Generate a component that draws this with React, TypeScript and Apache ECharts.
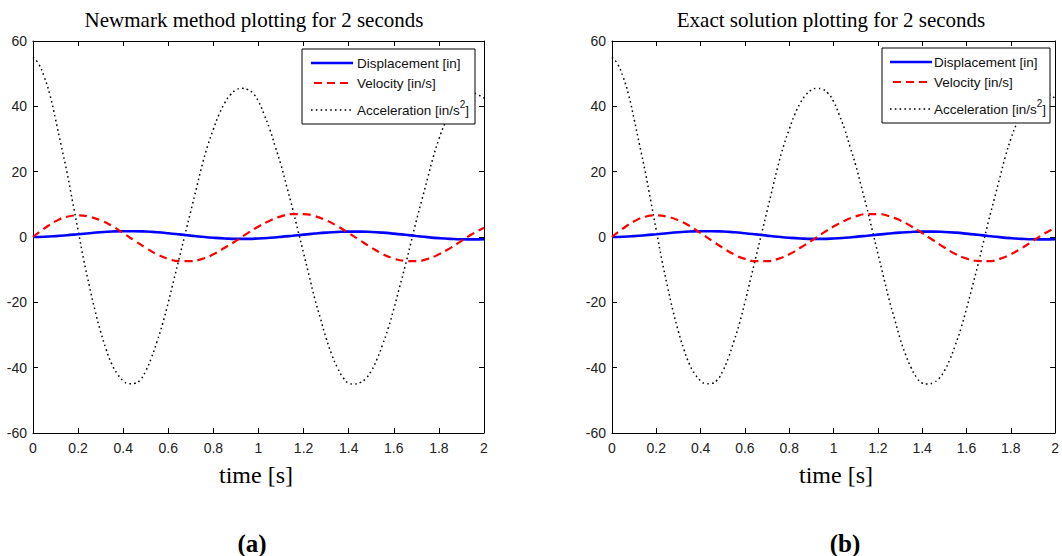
import React, { useEffect, useRef } from "react";
import * as echarts from "echarts";

const times = [
  0, 0.05, 0.1, 0.15, 0.2, 0.25, 0.3, 0.35, 0.4, 0.45,
  0.5, 0.55, 0.6, 0.65, 0.7, 0.75, 0.8, 0.85, 0.9, 0.95,
  1.0, 1.05, 1.1, 1.15, 1.2, 1.25, 1.3, 1.35, 1.4, 1.45,
  1.5, 1.55, 1.6, 1.65, 1.7, 1.75, 1.8, 1.85, 1.9, 1.95, 2.0,
];

const displacement = [
  0, 0.07, 0.26, 0.53, 0.85, 1.17, 1.45, 1.67, 1.78, 1.78,
  1.67, 1.45, 1.15, 0.8, 0.43, 0.08, -0.22, -0.44, -0.56, -0.56,
  -0.45, -0.24, 0.04, 0.37, 0.72, 1.05, 1.34, 1.55, 1.65, 1.65,
  1.54, 1.33, 1.03, 0.68, 0.31, -0.05, -0.35, -0.57, -0.7, -0.72, -0.66,
];

const velocity = [
  0, 2.6, 4.8, 6.2, 6.6, 6.2, 5.1, 3.4, 1.2, -1.1,
  -3.3, -5.3, -6.7, -7.4, -7.4, -6.7, -5.3, -3.3, -1.2, 1.1,
  3.2, 5.0, 6.3, 7.0, 7.0, 6.4, 5.1, 3.3, 1.2, -1.0,
  -3.2, -5.2, -6.6, -7.3, -7.4, -6.7, -5.3, -3.4, -1.2, 1.0, 2.8,
];

const accTimes = [
  0, 0.025, 0.05, 0.075, 0.1, 0.125, 0.15, 0.175, 0.2, 0.225,
  0.25, 0.275, 0.3, 0.325, 0.35, 0.375, 0.4, 0.425, 0.45, 0.475,
  0.5, 0.525, 0.55, 0.575, 0.6, 0.625, 0.65, 0.675, 0.7, 0.725,
  0.75, 0.775, 0.8, 0.825, 0.85, 0.875, 0.9, 0.925, 0.95, 0.975,
  1.0, 1.025, 1.05, 1.075, 1.1, 1.125, 1.15, 1.175, 1.2, 1.225,
  1.25, 1.275, 1.3, 1.325, 1.35, 1.375, 1.4, 1.425, 1.45, 1.475,
  1.5, 1.525, 1.55, 1.575, 1.6, 1.625, 1.65, 1.675, 1.7, 1.725,
  1.75, 1.775, 1.8, 1.825, 1.85, 1.875, 1.9, 1.925, 1.95, 1.975, 2.0,
];

const acceleration = [
  55, 53, 49, 43.5, 36, 28, 20, 11, 2, -7,
  -15, -22.5, -29, -34.5, -39, -42, -44, -44.9, -44.8, -43.8,
  -41, -37, -32, -26.5, -20, -13, -6, 1, 8, 15,
  22, 28, 33, 37.5, 41, 43.5, 45, 45.5, 45.2, 44,
  41.5, 37.5, 33, 27.5, 22, 15.5, 9, 2, -5, -12,
  -19, -25, -31, -36, -40, -43, -44.7, -45, -44.6, -43.4,
  -41, -37.5, -33, -28, -22, -15.5, -9, -2, 5, 11.5,
  18, 24.5, 30, 34.5, 38, 41, 43, 44, 44.1, 43.5, 42.5,
];

const titles = ["Newmark method plotting for 2 seconds", "Exact solution plotting for 2 seconds"];
const panelLabels = ["(a)", "(b)"];
const xAxisName = "time [s]";
const legendNames = ["Displacement [in]", "Velocity [in/s]"];

const SANS = "'Liberation Sans', Arial, Helvetica, sans-serif";
const SERIF = "'Liberation Serif', 'Times New Roman', serif";

const panels = [
  { left: 33, width: 451, titleX: 254, nameX: 256, labelX: 252, legX: 302, legW: 173, legY: 49, lineX1: 311, lineX2: 353, textX: 357, rows: [63, 83, 108] },
  { left: 612, width: 452, titleX: 831, nameX: 836, labelX: 845, legX: 882, legW: 168, legY: 48, lineX1: 890, lineX2: 932, textX: 934, rows: [62, 82, 107] },
];

const pairs = (ts: number[], vals: number[]) => ts.map((t, i) => [t, vals[i]]);

export default function App() {
  const ref = useRef<HTMLDivElement>(null);
  useEffect(() => {
    if (!ref.current) return;
    const chart = echarts.init(ref.current, undefined, { renderer: "svg" });
    const grid: any[] = [];
    const xAxis: any[] = [];
    const yAxis: any[] = [];
    const series: any[] = [];
    const graphic: any[] = [];
    const axisLine = { show: true, onZero: false, lineStyle: { color: "#000", width: 1 } };
    const axisTick = { show: true, inside: true, length: 5, lineStyle: { color: "#000", width: 1 } };
    panels.forEach((p, i) => {
      grid.push({ left: p.left, top: 41, width: p.width, height: 392 });
      xAxis.push({
        type: "value", gridIndex: i, min: 0, max: 2, interval: 0.2, position: "bottom",
        axisLine, axisTick, splitLine: { show: false },
        axisLabel: { fontFamily: SANS, fontSize: 14, color: "#222", margin: 8, formatter: (v: number) => String(+v.toFixed(1)) },
      });
      xAxis.push({
        type: "value", gridIndex: i, min: 0, max: 2, interval: 0.2, position: "top",
        axisLine, axisTick, splitLine: { show: false }, axisLabel: { show: false },
      });
      yAxis.push({
        type: "value", gridIndex: i, min: -60, max: 60, interval: 20, position: "left",
        axisLine, axisTick, splitLine: { show: false },
        axisLabel: { fontFamily: SANS, fontSize: 14, color: "#222", margin: 6 },
      });
      yAxis.push({
        type: "value", gridIndex: i, min: -60, max: 60, interval: 20, position: "right",
        axisLine, axisTick, splitLine: { show: false }, axisLabel: { show: false },
      });
      const common = { type: "line", xAxisIndex: 2 * i, yAxisIndex: 2 * i, showSymbol: false, symbol: "none", smooth: true, silent: true };
      series.push({ ...common, name: "Displacement", data: pairs(times, displacement), lineStyle: { color: "#0000ff", width: 2.6 }, z: 3 });
      series.push({ ...common, name: "Velocity", data: pairs(times, velocity), lineStyle: { color: "#ff0000", width: 2.2, type: [8, 5] }, z: 4 });
      series.push({ ...common, name: "Acceleration", data: pairs(accTimes, acceleration), lineStyle: { color: "#000", width: 1.5, type: [1.6, 3.2] }, z: 2 });

      graphic.push({ type: "text", x: p.titleX, y: 20, z: 100, style: { text: titles[i], font: `21px ${SERIF}`, fill: "#000", align: "center", verticalAlign: "middle" } });
      graphic.push({ type: "text", x: p.nameX, y: 475, z: 100, style: { text: xAxisName, font: `24px ${SERIF}`, fill: "#000", align: "center", verticalAlign: "middle" } });
      graphic.push({ type: "text", x: p.labelX, y: 543, z: 100, style: { text: panelLabels[i], font: `bold 25px ${SERIF}`, fill: "#000", align: "center", verticalAlign: "middle" } });

      graphic.push({ type: "rect", z: 100, shape: { x: p.legX, y: p.legY, width: p.legW, height: 75 }, style: { fill: "#fff", stroke: "#000", lineWidth: 1 } });
      graphic.push({ type: "line", z: 101, shape: { x1: p.lineX1, y1: p.rows[0], x2: p.lineX2, y2: p.rows[0] }, style: { stroke: "#0000ff", lineWidth: 2.6 } });
      graphic.push({ type: "line", z: 101, shape: { x1: p.lineX1 + 3, y1: p.rows[1], x2: p.lineX2, y2: p.rows[1] }, style: { stroke: "#ff0000", lineWidth: 2.2, lineDash: [8, 5] } });
      graphic.push({ type: "line", z: 101, shape: { x1: p.lineX1, y1: p.rows[2] + 2, x2: p.lineX2, y2: p.rows[2] + 2 }, style: { stroke: "#000", lineWidth: 1.5, lineDash: [1.6, 3.2] } });
      graphic.push({ type: "text", x: p.textX, y: p.rows[0], z: 101, style: { text: legendNames[0], font: `13.5px ${SANS}`, fill: "#111", align: "left", verticalAlign: "middle" } });
      graphic.push({ type: "text", x: p.textX, y: p.rows[1], z: 101, style: { text: legendNames[1], font: `13.5px ${SANS}`, fill: "#111", align: "left", verticalAlign: "middle" } });
      graphic.push({
        type: "text", x: p.textX, y: p.rows[2], z: 101,
        style: {
          text: "{a|Acceleration [in/s}{s|2}{a|]}",
          align: "left", verticalAlign: "middle",
          rich: {
            a: { fontSize: 13.5, fontFamily: SANS, fill: "#111", lineHeight: 18, verticalAlign: "bottom" },
            s: { fontSize: 10, fontFamily: SANS, fill: "#111", lineHeight: 14, verticalAlign: "top" },
          },
        },
      });
    });
    chart.setOption({
      animation: false,
      backgroundColor: "#fff",
      grid, xAxis, yAxis, series, graphic,
    });
    return () => chart.dispose();
  }, []);
  return <div ref={ref} style={{ position: "fixed", left: 0, top: 0, width: 1062, height: 556, background: "#fff" }} />;
}
